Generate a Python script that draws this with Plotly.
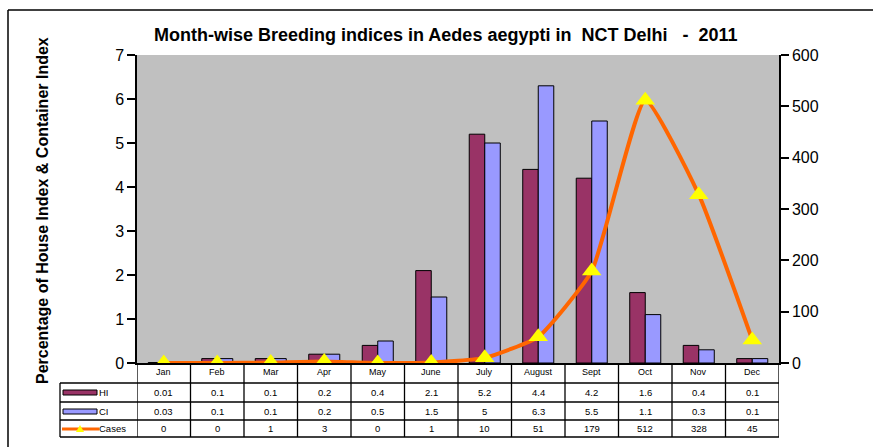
import plotly.graph_objects as go

months = ["Jan", "Feb", "Mar", "Apr", "May", "June", "July", "August", "Sept", "Oct", "Nov", "Dec"]
hi = [0.01, 0.1, 0.1, 0.2, 0.4, 2.1, 5.2, 4.4, 4.2, 1.6, 0.4, 0.1]
ci = [0.03, 0.1, 0.1, 0.2, 0.5, 1.5, 5, 6.3, 5.5, 1.1, 0.3, 0.1]
cases = [0, 0, 1, 3, 0, 1, 10, 51, 179, 512, 328, 45]

HI_COL = "#993366"
CI_COL = "#9999FF"
LINE_COL = "#FF6600"
FONT = "Arial, Liberation Sans, sans-serif"

W, H = 873, 447
L, R, T, B = 137, 94, 55, 84
PW, PH = W - L - R, H - T - B

def px(x):
    return (x - L) / PW

def py(y):
    return (H - B - y) / PH

xs = list(range(len(months)))

fig = go.Figure()
fig.add_trace(go.Bar(x=xs, y=hi, name="HI", marker=dict(color=HI_COL, line=dict(color="black", width=1))))
fig.add_trace(go.Bar(x=xs, y=ci, name="CI", marker=dict(color=CI_COL, line=dict(color="black", width=1))))
fig.add_trace(go.Scatter(x=xs, y=cases, name="Cases", yaxis="y2", mode="lines+markers",
                         line=dict(color=LINE_COL, width=4, shape="spline", smoothing=0.45),
                         marker=dict(symbol="triangle-up", size=17, color="#FFFF00", line=dict(width=0))))

shapes = []
annotations = []

def ann(**kw):
    kw.setdefault("showarrow", False)
    kw.setdefault("xanchor", "center")
    kw.setdefault("yanchor", "middle")
    annotations.append(kw)

# outer frame
shapes.append(dict(type="line", xref="paper", yref="paper", x0=px(8), x1=px(8), y0=py(10), y1=py(447), line=dict(color="black", width=1.5)))
shapes.append(dict(type="line", xref="paper", yref="paper", x0=px(8), x1=px(873), y0=py(10), y1=py(10), line=dict(color="black", width=1.5)))

# table geometry
rows_y = [383, 402, 420, 437]
tab_left = 60
line_style = dict(color="black", width=1.3)
for yy in rows_y:
    shapes.append(dict(type="line", xref="paper", yref="paper", x0=px(tab_left), x1=1, y0=py(yy), y1=py(yy), line=line_style))
for i in range(len(months) + 1):
    shapes.append(dict(type="line", xref="x", yref="paper", x0=i - 0.5, x1=i - 0.5, y0=0, y1=py(rows_y[-1]), line=line_style))
shapes.append(dict(type="line", xref="paper", yref="paper", x0=px(tab_left), x1=px(tab_left), y0=py(rows_y[0]), y1=py(rows_y[-1]), line=line_style))

# month labels
for i, m in enumerate(months):
    ann(x=i, y=py(372), xref="x", yref="paper", text=m, font=dict(family=FONT, size=9, color="black"))

# table values
series = [("HI", hi), ("CI", ci), ("Cases", cases)]
row_centers = [392.5, 411, 428.5]
for (name, vals), yc in zip(series, row_centers):
    for i, v in enumerate(vals):
        ann(x=i, y=py(yc), xref="x", yref="paper", text=str(v), font=dict(family=FONT, size=9.5, color="black"))
    ann(x=px(97), y=py(yc), xref="paper", yref="paper", text=name, xanchor="left",
        font=dict(family=FONT, size=9.5, color="black"))

# legend keys
shapes.append(dict(type="rect", xref="paper", yref="paper", x0=px(63), x1=px(97), y0=py(395), y1=py(390),
                   fillcolor=HI_COL, line=dict(color="black", width=1)))
shapes.append(dict(type="rect", xref="paper", yref="paper", x0=px(63), x1=px(97), y0=py(414), y1=py(409),
                   fillcolor=CI_COL, line=dict(color="black", width=1)))
shapes.append(dict(type="line", xref="paper", yref="paper", x0=px(62), x1=px(99), y0=py(429), y1=py(429),
                   line=dict(color=LINE_COL, width=3)))
shapes.append(dict(type="path", xref="paper", yref="paper",
                   path=f"M {px(76)} {py(432)} L {px(84)} {py(432)} L {px(80)} {py(425)} Z",
                   fillcolor="#FFFF00", line=dict(width=0)))

# title
ann(x=px(445), y=py(35), xref="paper", yref="paper",
    text="<b>Month-wise Breeding indices in Aedes aegypti in  NCT Delhi   -  2011</b>",
    font=dict(family=FONT, size=18, color="black"))
# y title
ann(x=px(42), y=py(211), xref="paper", yref="paper", textangle=-90,
    text="<b>Percentage of House Index & Container Index</b>",
    font=dict(family=FONT, size=16, color="black"))

fig.update_layout(
    width=W, height=H,
    margin=dict(l=L, r=R, t=T, b=B, autoexpand=False),
    paper_bgcolor="white",
    plot_bgcolor="#C0C0C0",
    barmode="group",
    bargap=0.42,
    bargroupgap=0,
    showlegend=False,
    font=dict(family=FONT, color="black"),
    xaxis=dict(range=[-0.5, 11.5], showticklabels=False, ticks="", showgrid=False, zeroline=False,
               showline=True, linecolor="black", linewidth=1.5),
    yaxis=dict(range=[0, 7], dtick=1, showgrid=False, zeroline=False, showline=True, linecolor="black",
               linewidth=1.5, ticks="outside", ticklen=8, tickwidth=1.5, tickcolor="black",
               tickfont=dict(family=FONT, size=16, color="black")),
    yaxis2=dict(range=[0, 600], dtick=100, overlaying="y", side="right", showgrid=False, zeroline=False,
                showline=True, linecolor="black", linewidth=1.5, ticks="outside", ticklen=8, tickwidth=1.5,
                tickcolor="black", tickfont=dict(family=FONT, size=16, color="black")),
    shapes=shapes,
    annotations=annotations,
)

fig.write_html("out.html", config={"displayModeBar": False},
               post_script="document.body.style.margin='0px';document.body.style.overflow='hidden';")
